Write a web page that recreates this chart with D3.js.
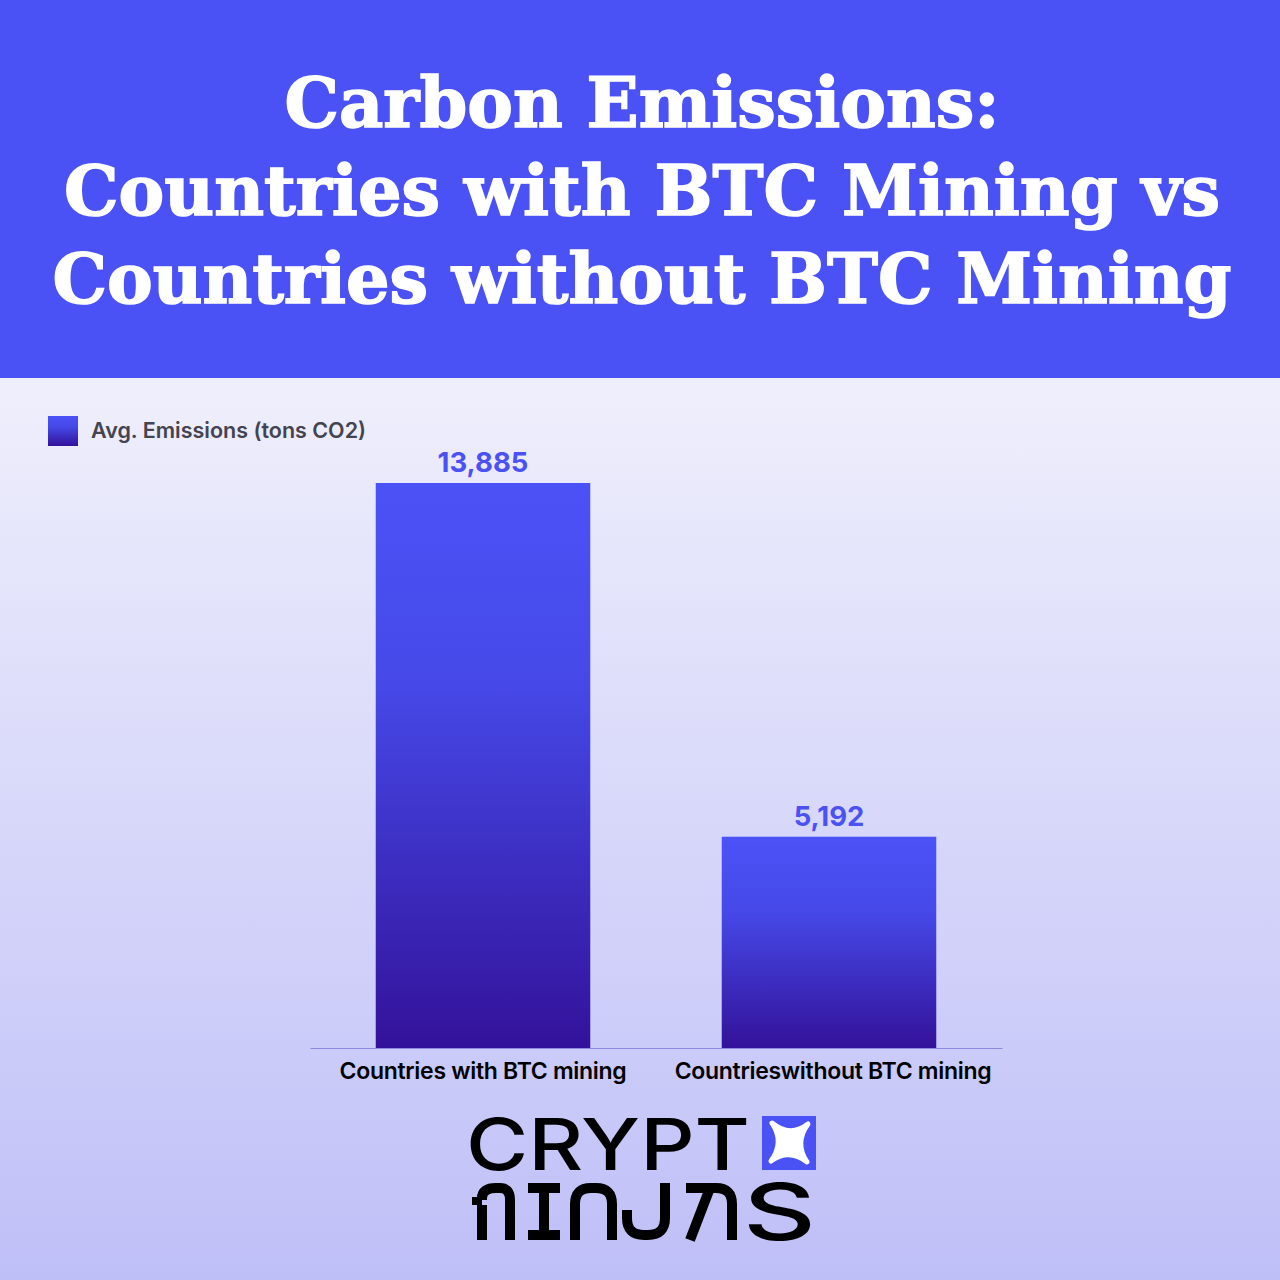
<!DOCTYPE html>
<html><head><meta charset="utf-8">
<script src="https://cdn.jsdelivr.net/npm/d3@7"></script>
<style>html,body{margin:0;padding:0;background:#fff}svg{display:block}</style>
</head><body>
<script>
const titleLines = ["Carbon Emissions:", "Countries with BTC Mining vs", "Countries without BTC Mining"];
const categories = ["Countries with BTC mining", "Countrieswithout BTC mining"];
const values = [13885, 5192];
const seriesName = "Avg. Emissions (tons CO2)";

const W = 1280, H = 1280;
const svg = d3.select("body").append("svg").attr("width", W).attr("height", H);
const defs = svg.append("defs");

const bg = defs.append("linearGradient").attr("id","bg").attr("x1",0).attr("y1",0).attr("x2",0).attr("y2",1);
bg.append("stop").attr("offset","0%").attr("stop-color","#EFEFFC");
bg.append("stop").attr("offset","100%").attr("stop-color","#BFBFF8");
const bar = defs.append("linearGradient").attr("id","bar").attr("x1",0).attr("y1",0).attr("x2",0).attr("y2",1);
bar.append("stop").attr("offset","0%").attr("stop-color","#4B52F6");
bar.append("stop").attr("offset","35%").attr("stop-color","#4649E8");
bar.append("stop").attr("offset","100%").attr("stop-color","#33129A");

svg.append("rect").attr("x",0).attr("y",378).attr("width",W).attr("height",H-378).attr("fill","url(#bg)");
svg.append("rect").attr("x",0).attr("y",0).attr("width",W).attr("height",378).attr("fill","#4B52F5");

// title
const tWidths = [[642,715],[642,1156],[642,1179]];
const tBase = [127,215,303];
titleLines.forEach((t,i)=>{
  svg.append("text").attr("x",tWidths[i][0]).attr("y",tBase[i]).attr("text-anchor","middle")
    .attr("fill","#fff").attr("stroke","#fff").attr("stroke-width",1.6)
    .attr("font-family","'DejaVu Serif', serif").attr("font-weight","bold")
    .attr("font-size",70).attr("textLength", tWidths[i][1]).attr("lengthAdjust","spacingAndGlyphs").text(t);
});

// legend
svg.append("rect").attr("x",48).attr("y",416).attr("width",30).attr("height",30).attr("fill","url(#bar)");
svg.append("text").attr("x",91).attr("y",438).attr("font-family","Inter, sans-serif").attr("font-weight",600)
  .attr("font-size",21.5).attr("fill","#444450").text(seriesName);

// chart
const x = d3.scaleBand().domain(categories).range([310,1002]).paddingInner(0.38).paddingOuter(0.19);
const y = d3.scaleLinear().domain([0,13885]).range([1048,483]);

svg.selectAll("rect.bar").data(values).join("rect").attr("class","bar")
  .attr("x",(d,i)=>x(categories[i])).attr("width",x.bandwidth())
  .attr("y",d=>y(d)).attr("height",d=>y(0)-y(d)).attr("fill","url(#bar)");

svg.selectAll("text.val").data(values).join("text").attr("class","val")
  .attr("x",(d,i)=>x(categories[i])+x.bandwidth()/2).attr("y",d=>y(d)-11)
  .attr("text-anchor","middle").attr("font-family","Inter, sans-serif").attr("font-weight",700)
  .attr("font-size",27.5).attr("fill","#4B52F5").text(d=>d3.format(",")(d));

const xAxis = svg.append("g").attr("transform","translate(0,1048)")
  .call(d3.axisBottom(x).tickSize(0).tickPadding(14));
xAxis.select(".domain").attr("stroke","#8C88E2").attr("stroke-width",1);
xAxis.selectAll("text").attr("font-family","Inter, sans-serif").attr("font-weight",600)
  .attr("font-size",23).attr("letter-spacing","-0.3").attr("fill","#000").attr("dy","0.72em");
xAxis.selectAll(".tick").filter((d,i)=>i===1).select("text").attr("dx",4);

// logo
const logo = svg.append("g");
logo.append("text").attr("x",466).attr("y",1170).attr("font-family","Inter, sans-serif").attr("font-weight",500)
  .attr("font-size",72).attr("textLength",284).attr("lengthAdjust","spacingAndGlyphs").attr("fill","#000").text("CRYPT");
logo.append("rect").attr("x",762).attr("y",1116).attr("width",54).attr("height",54).attr("fill","#4B52F5");
logo.append("path").attr("fill","#fff")
  .attr("d","M772,1123 Q790,1138 808,1124 Q794,1143 807,1162 Q789,1148 771,1161 Q785,1142 772,1123 Z")
  .attr("stroke","#fff").attr("stroke-width",5).attr("stroke-linejoin","round");
const sw = 10;
const g2 = logo.append("g").attr("fill","none").attr("stroke","#000").attr("stroke-width",sw);
// n with notch
g2.append("path").attr("d","M482,1240 L482,1205 M482,1200 L482,1198 Q482,1188 496,1188 L500,1188 Q510,1188 510,1200 L510,1240");
g2.append("rect").attr("x",472).attr("y",1197).attr("width",10).attr("height",8).attr("fill","#000").attr("stroke","none");
// I
g2.append("path").attr("d","M528,1188 L560,1188 M544,1188 L544,1240 M528,1235 L560,1235");
// n
g2.append("path").attr("d","M575,1240 L575,1204 Q575,1188 591,1188 L596,1188 Q612,1188 612,1204 L612,1240");
// J
g2.append("path").attr("d","M665,1183 L665,1218 Q665,1235 648,1235 L644,1235 Q627,1235 627,1218 L627,1210");
// A-like
g2.append("path").attr("d","M686,1188 L716,1188 Q732,1188 732,1204 L732,1240 M710,1188 L690,1240");
// S
logo.append("text").attr("x",743).attr("y",1240).attr("font-family","Inter, sans-serif").attr("font-weight",500)
  .attr("font-size",78).attr("textLength",73).attr("lengthAdjust","spacingAndGlyphs").attr("fill","#000").text("S");
</script>
</body></html>
